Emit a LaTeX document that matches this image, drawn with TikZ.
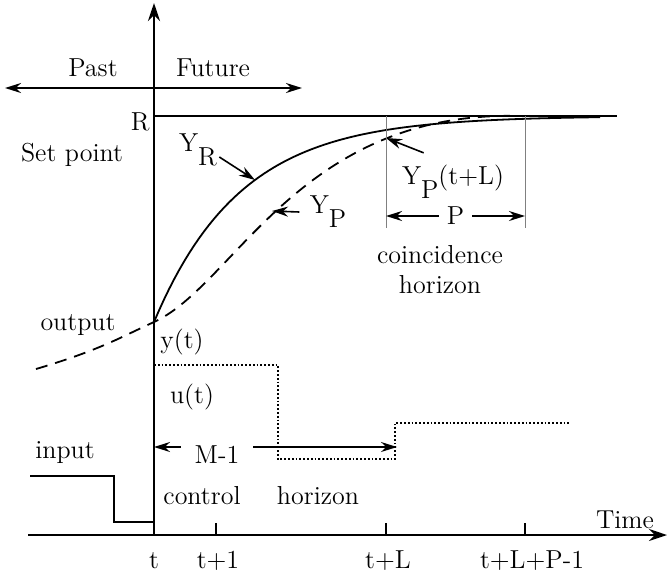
\documentclass[tikz,border=0pt]{standalone}
\usepackage{tikz}
\usetikzlibrary{arrows.meta,positioning,calc}
\tikzset{
  lbl/.style={inner sep=1pt, font=\fontsize{13}{15}\selectfont},
  axis/.style={line width=1.3pt, -{Stealth[length=9pt,width=6pt]}},
  arrow/.style={line width=0.8pt, -{Stealth[length=8pt,width=5pt]}},
  dimarrow/.style={line width=0.8pt, {Stealth[length=8pt,width=5pt]}-{Stealth[length=8pt,width=5pt]}},
  guide/.style={line width=0.4pt, gray},
  signal/.style={densely dotted, line width=0.9pt},
  curve/.style={line width=0.9pt}
}
\newcommand{\lowsub}[2]{#1\raisebox{-7pt}{#2}}

\begin{document}
\begin{tikzpicture}[x=0.5pt, y=-0.5pt]
  \useasboundingbox (0,0) rectangle (667,579);

  % axes
  \coordinate (origin) at (154,535);
  \coordinate (ytop) at (154,3);
  \coordinate (xleft) at (28,535);
  \coordinate (xright) at (667,535);
  \draw[axis] (origin) -- (ytop);
  \draw[axis] (xleft) -- (xright);
  \node[lbl, anchor=base] (time) at (625,528) {Time};

  % past / future
  \coordinate (pastend) at (5,88);
  \coordinate (futureend) at (302,88);
  \draw[dimarrow, line width=1pt] (pastend) -- (futureend);
  \node[lbl] (past) at (93,68) {Past};
  \node[lbl] (future) at (213,68) {Future};

  % set point
  \coordinate (rstart) at (154,116);
  \coordinate (rend) at (617,116);
  \draw[curve] (rstart) -- (rend);
  \node[lbl, anchor=east] (rlabel) at (152,122) {R};
  \node[lbl] (setpoint) at (72,155) {Set point};

  % reference and predicted output
  \draw[curve, domain=154:600, samples=90] plot (\x, {116+206*exp(-0.01158*(\x-154))});
  \draw[curve, dash pattern=on 6pt off 4pt] (36,369) .. controls (100,350) and (120,337.5) .. (154,322)
    .. controls (235,285) and (300,110) .. (520,116) -- (560,116);

  \node[lbl] (yr) at (198,150) {\lowsub{Y}{R}};
  \coordinate (yrpt) at (255,180);
  \draw[arrow] ([yshift=-3.5pt]yr.east) -- (yrpt);

  \node[lbl, inner sep=5pt] (yp) at (328,212) {\lowsub{Y}{P}};
  \coordinate (yppt) at (272,211);
  \draw[arrow] (yp.west) -- (yppt);

  \node[lbl] (yptl) at (453,182) {\lowsub{Y}{P}(t+L)};
  \coordinate (yptlpt) at (386,138);
  \draw[arrow] ([xshift=12pt,yshift=5pt]yptl.north west) -- (yptlpt);

  % coincidence horizon
  \coordinate (g1top) at (386,116);
  \coordinate (g1bot) at (386,228);
  \coordinate (g2top) at (525,116);
  \coordinate (g2bot) at (525,228);
  \draw[guide] (g1top) -- (g1bot);
  \draw[guide] (g2top) -- (g2bot);
  \coordinate (pl) at (386,216);
  \coordinate (pr) at (525,216);
  \draw[dimarrow] (pl) -- node[lbl, fill=white, inner xsep=4pt] (plabel) {P} (pr);
  \node[lbl, align=center] (coinc) at (440,270) {coincidence\\horizon};

  % output
  \node[lbl] (output) at (78,325) {output};
  \node[lbl] (yt) at (182,342) {y(t)};

  % control signal
  \draw[signal] (154,365) -- (278,365) -- (278,459) -- (395,459) -- (395,423) -- (571,423);
  \node[lbl] (ut) at (192,397) {u(t)};
  \coordinate (mstart) at (154,447);
  \coordinate (mend) at (397,447);
  \draw[dimarrow] (mstart) -- (mend);
  \node[lbl, fill=white, inner xsep=7pt, inner ysep=3pt] (m1) at (217,455) {M-1};

  % past input
  \draw[curve] (30,476) -- (114,476) -- (114,522) -- (154,522);
  \node[lbl] (input) at (65,453) {input};
  \node[lbl] (control) at (202,496) {control};
  \node[lbl] (horizon) at (318,496) {horizon};

  % time ticks
  \foreach \tx in {216,386,525}
    \draw[line width=0.6pt] (\tx,523) -- (\tx,535);
  \node[lbl, anchor=base] (tick0) at (154,568) {t};
  \node[lbl, anchor=base] (tick1) at (218,568) {t+1};
  \node[lbl, anchor=base] (tickL) at (388,568) {t+L};
  \node[lbl, anchor=base] (tickP) at (532,568) {t+L+P-1};
\end{tikzpicture}
\end{document}
